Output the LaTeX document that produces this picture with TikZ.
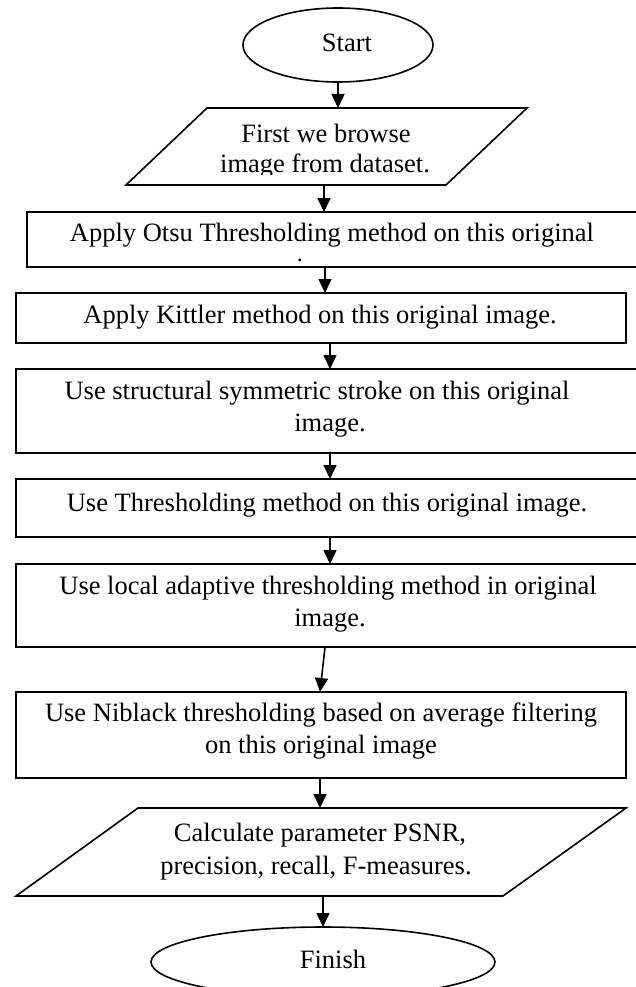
\documentclass[tikz,border=0pt]{standalone}
\usepackage{fontspec}
\setmainfont{Liberation Serif}
\usetikzlibrary{arrows.meta,shapes.geometric,calc}
\begin{document}
\begin{tikzpicture}[x=1pt,y=-1pt,
  box/.style={draw, line width=1.6pt, rectangle, inner sep=0pt, outer sep=0pt},
  term/.style={draw, line width=1.6pt, ellipse, inner sep=0pt, outer sep=0pt},
  txt/.style={inner sep=0pt, outer sep=0pt, anchor=base, font=\fontsize{26.5}{32}\selectfont},
  arr/.style={line width=1.6pt, -{Triangle[width=13pt,length=14pt]}},
  para/.style={draw, line width=1.6pt, line join=miter}]
\useasboundingbox (0,0) rectangle (636,987);

% terminals
\node[term, minimum width=190pt, minimum height=74pt] (start) at (338,45) {};
\node[txt] (tStart) at (347,52) {Start};

% parallelogram 1
\draw[para] (207,108) -- (527,108) -- (446,185) -- (126,185) -- cycle;
\coordinate (p1n) at (338,108);
\coordinate (p1s) at (324,185);
\node[txt] (tP1a) at (326,143) {First we browse};
\begin{scope}
  \clip (100,150) rectangle (560,175);
  \node[txt] (tP1b) at (325,173) {image from dataset.};
\end{scope}

% boxes
\node[box, minimum width=623pt, minimum height=55pt] (otsu) at (338.5,239.5) {};
\node[txt] (tOtsuA) at (332,241) {Apply Otsu Thresholding method on this original};
\begin{scope}
  \clip (28,245) rectangle (636,261);
  \node[txt] (tOtsuB) at (332,276) {image.};
\end{scope}

\node[box, minimum width=610pt, minimum height=50pt] (kit) at (321,318) {};
\node[txt] (tKit) at (320,323) {Apply Kittler method on this original image.};

\node[box, minimum width=634pt, minimum height=84pt] (str) at (333,411) {};
\node[txt] (tStrA) at (317,399) {Use structural symmetric stroke on this original};
\node[txt] (tStrB) at (330,431) {image.};

\node[box, minimum width=634pt, minimum height=58pt] (thr) at (333,508) {};
\node[txt] (tThr) at (327,511) {Use Thresholding method on this original image.};

\node[box, minimum width=634pt, minimum height=83pt] (loc) at (333,605.5) {};
\node[txt] (tLocA) at (328,594) {Use local adaptive thresholding method in original};
\node[txt] (tLocB) at (330,626) {image.};

\node[box, minimum width=610pt, minimum height=86pt] (nib) at (321,735) {};
\node[txt] (tNibA) at (321,721) {Use Niblack thresholding based on average filtering};
\node[txt] (tNibB) at (321,753) {on this original image};

% parallelogram 2
\draw[para] (138,808) -- (626,808) -- (503,896) -- (16,896) -- cycle;
\coordinate (p2n) at (320,808);
\coordinate (p2s) at (323,896);
\node[txt] (tP2a) at (320,841) {Calculate parameter PSNR,};
\node[txt] (tP2b) at (316,874) {precision, recall, F-measures.};

\node[term, minimum width=344pt, minimum height=70pt] (fin) at (323,962) {};
\node[txt] (tFin) at (333,968) {Finish};

% arrow columns
\coordinate (ax1) at (325,0);
\coordinate (ax2) at (330,0);
\coordinate (ax3) at (325,0);
\coordinate (ax4) at (320,0);

% connectors
\draw[arr] (start.south) -- (p1n);
\draw[arr] (p1s) -- (p1s |- otsu.north);
\draw[arr] (otsu.south -| ax1) -- (kit.north -| ax1);
\draw[arr] (kit.south -| ax2) -- (str.north -| ax2);
\draw[arr] (str.south -| ax2) -- (thr.north -| ax2);
\draw[arr] (thr.south -| ax2) -- (loc.north -| ax2);
\draw[arr] (loc.south -| ax3) -- (nib.north -| ax4);
\draw[arr] (nib.south -| ax4) -- (p2n);
\draw[arr] (p2s) -- (p2s |- fin.north);
\end{tikzpicture}
\end{document}
